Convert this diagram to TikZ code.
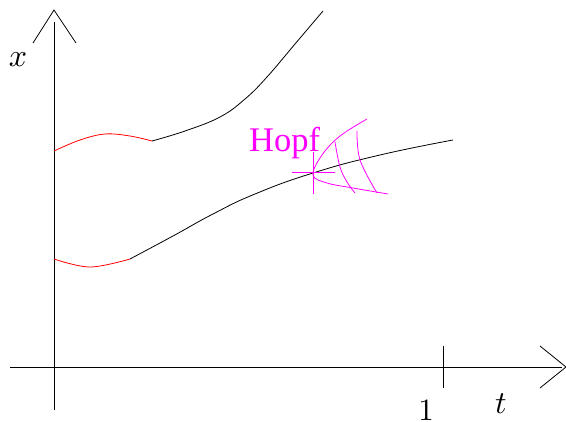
\documentclass[tikz,border=0pt]{standalone}
\usepackage{fontspec}
\usepackage{graphicx}
\newfontfamily\hopffont{Liberation Serif}
\definecolor{myred}{RGB}{255,0,0}
\definecolor{mymag}{RGB}{255,0,255}
\tikzset{
  ax/.style={line width=0.8pt, black},
  crv/.style={line width=0.8pt, black},
  redcrv/.style={line width=0.8pt, myred},
  magcrv/.style={line width=0.8pt, mymag},
  lab/.style={inner sep=0pt},
}
\begin{document}
\begin{tikzpicture}[x=1pt,y=-1pt]
\useasboundingbox (0,0) rectangle (566,422);
% axes
\coordinate (ybot) at (54,410);
\coordinate (ytop) at (54,22);
\coordinate (xl) at (10,367);
\coordinate (xr) at (562,367);
\draw[ax] (ybot) -- (ytop);
\draw[ax] (33,43) -- (54,10) -- (76,43);
\draw[ax] (xl) -- (xr);
\draw[ax] (540,346) -- (566,367) -- (540,388);
\draw[ax] (443,346) -- (443,388);
\node[lab] (xlab) at (18,60) {\scalebox{3.2}{$x$}};
\node[lab] (tlab) at (501,404) {\scalebox{3.2}{$t$}};
\node[lab] (one) at (426,410) {\scalebox{3.1}{1}};
% upper curve
\draw[redcrv] plot[smooth, tension=0.6] coordinates {(54,151) (80,140) (105,134) (130,136) (152,141)};
\draw[crv] plot[smooth, tension=0.7] coordinates {(152,141) (185,131) (220,117) (245,99) (267,77) (295,44) (323,11)};
% lower curve
\draw[redcrv] plot[smooth, tension=0.6] coordinates {(54,259) (90,267) (130,259)};
\draw[crv] plot[smooth, tension=0.8] coordinates {(130,259) (173,236) (213,214) (255,194) (313,173) (380,155) (453,140)};
% Hopf
\node[inner sep=0pt, anchor=base west, text=mymag, font=\hopffont\fontsize{34.5}{34.5}\selectfont] (hopf) at (249,152) {Hopf};
\draw[magcrv] (313,152) -- (313,194);
\draw[magcrv] (292,172) -- (335,172);
\draw[magcrv] plot[smooth, tension=0.6] coordinates {(367,119) (340,136) (322,155) (313,175) (327,183) (353,188) (388,194)};
\draw[magcrv] plot[smooth, tension=0.6] coordinates {(335,142) (340,167) (347,182) (355,193)};
\draw[magcrv] plot[smooth, tension=0.6] coordinates {(357,131) (360,160) (377,193)};
\end{tikzpicture}
\end{document}
